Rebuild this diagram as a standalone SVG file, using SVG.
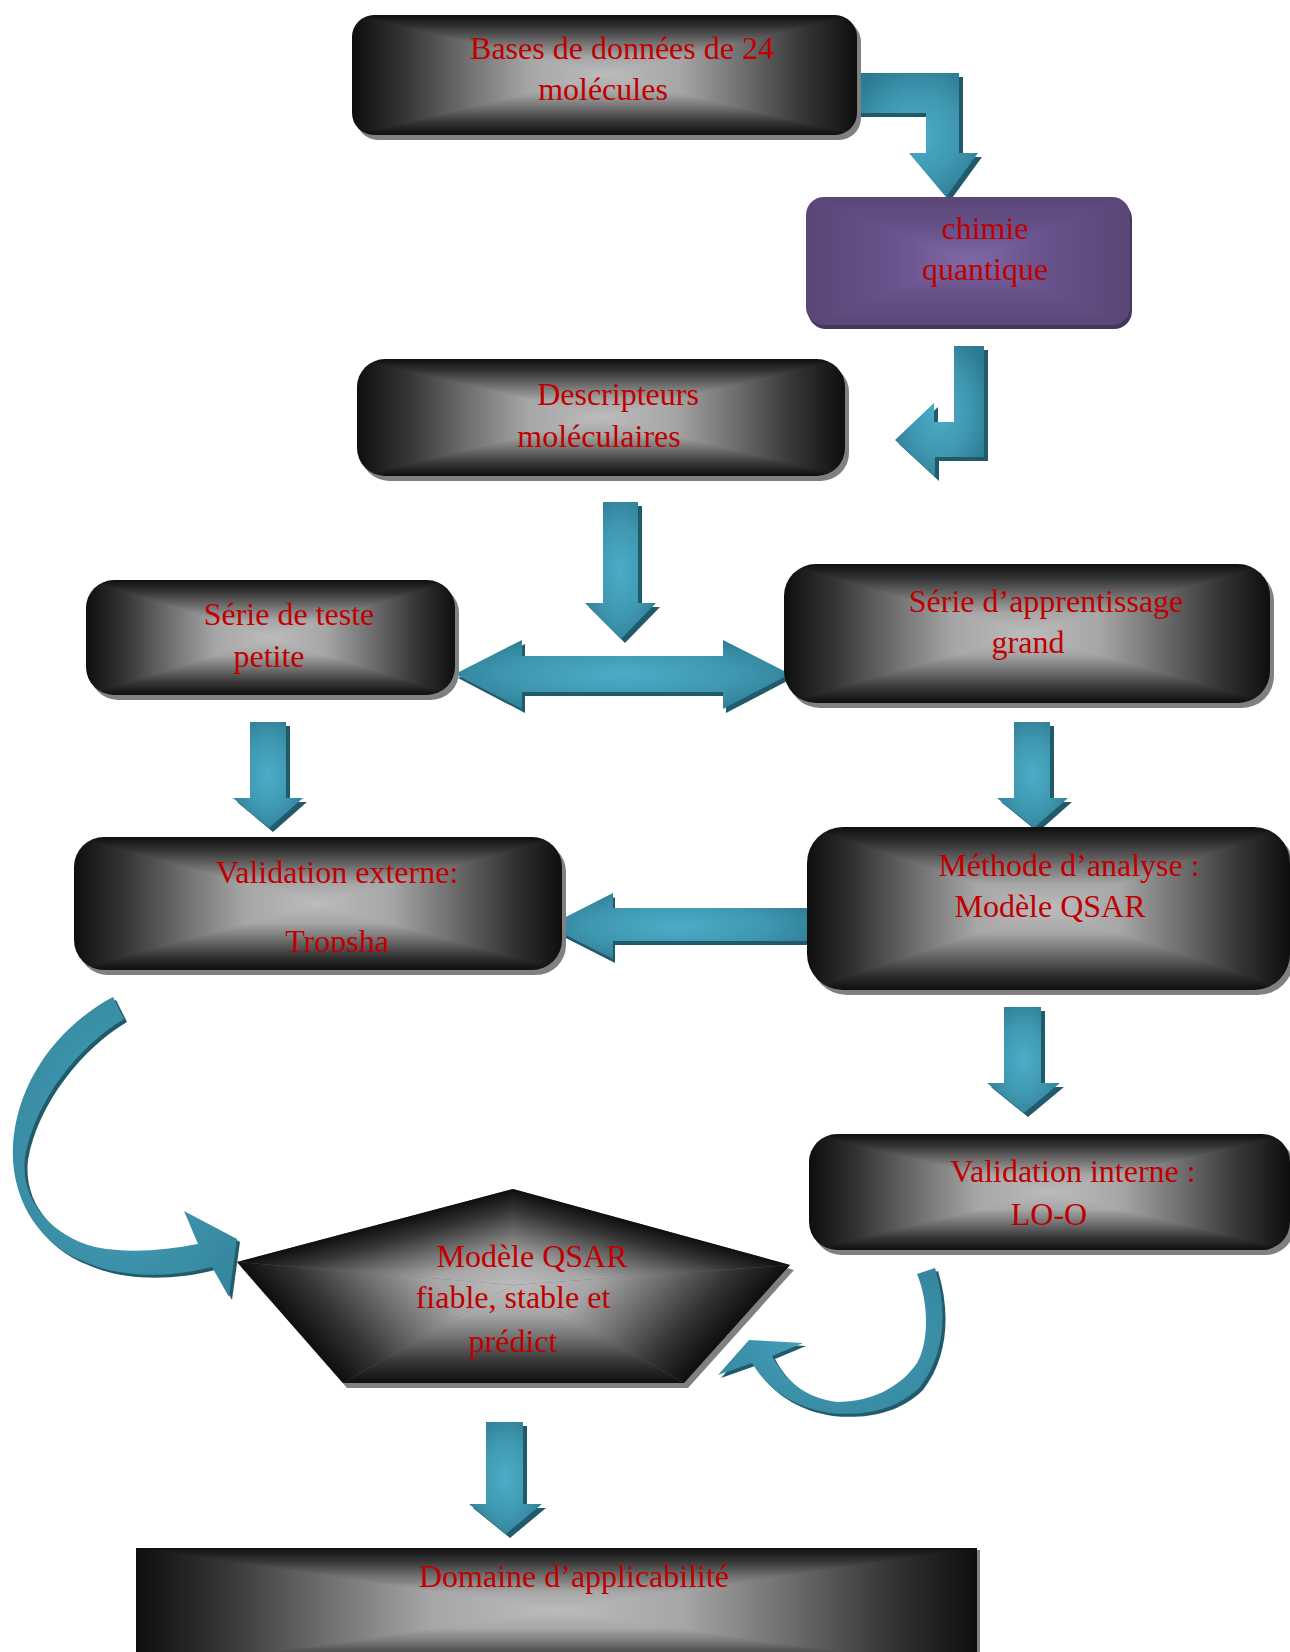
<svg xmlns="http://www.w3.org/2000/svg" xmlns:xlink="http://www.w3.org/1999/xlink" width="1290" height="1652" viewBox="0 0 1290 1652">
<style>
.t{font-family:"Liberation Serif","Times New Roman",serif;font-size:32px;fill:#c00000;text-anchor:middle}
.box{fill:url(#pgGray)}
.pbox{fill:url(#pgPurple)}
.sh{fill:#808080}
.psh{fill:#45375c}
.arr{fill:url(#gArr)}
.carr{fill:url(#gCurve)}
.ash{fill:#215b6b}
</style>
<defs>
<linearGradient id="gT" x1="0" y1="0" x2="0" y2="1"><stop offset="0" stop-color="#0e0e0e"/><stop offset="0.2" stop-color="#333"/><stop offset="0.45" stop-color="#6e6e6e"/><stop offset="0.7" stop-color="#a6a6a6"/><stop offset="1" stop-color="#bcbcbc"/></linearGradient>
<linearGradient id="gB" href="#gT" xlink:href="#gT" x1="0" y1="1" x2="0" y2="0"/>
<linearGradient id="gL" href="#gT" xlink:href="#gT" x1="0" y1="0" x2="1" y2="0"/>
<linearGradient id="gR" href="#gT" xlink:href="#gT" x1="1" y1="0" x2="0" y2="0"/>
<pattern id="pgGray" patternContentUnits="objectBoundingBox" width="1" height="1">
<rect width="1" height="1" fill="#6a6a6a"/>
<polygon points="0,0 0.04,0 0.5,0.46 0.5,0.54 0.04,1 0,1" fill="url(#gL)"/>
<polygon points="1,0 0.96,0 0.5,0.46 0.5,0.54 0.96,1 1,1" fill="url(#gR)"/>
<polygon points="0,0 1,0 0.5,0.5" fill="url(#gT)"/>
<polygon points="0,1 1,1 0.5,0.5" fill="url(#gB)"/>
</pattern>
<linearGradient id="pT" x1="0" y1="0" x2="0" y2="1"><stop offset="0" stop-color="#5a4676"/><stop offset="0.5" stop-color="#66518a"/><stop offset="1" stop-color="#8068a6"/></linearGradient>
<linearGradient id="pB" href="#pT" xlink:href="#pT" x1="0" y1="1" x2="0" y2="0"/>
<linearGradient id="pL" href="#pT" xlink:href="#pT" x1="0" y1="0" x2="1" y2="0"/>
<linearGradient id="pR" href="#pT" xlink:href="#pT" x1="1" y1="0" x2="0" y2="0"/>
<pattern id="pgPurple" patternContentUnits="objectBoundingBox" width="1" height="1">
<rect width="1" height="1" fill="#6a5590"/>
<polygon points="0,0 0.04,0 0.5,0.46 0.5,0.54 0.04,1 0,1" fill="url(#pL)"/>
<polygon points="1,0 0.96,0 0.5,0.46 0.5,0.54 0.96,1 1,1" fill="url(#pR)"/>
<polygon points="0,0 1,0 0.5,0.5" fill="url(#pT)"/>
<polygon points="0,1 1,1 0.5,0.5" fill="url(#pB)"/>
</pattern>
<linearGradient id="q1" href="#gT" xlink:href="#gT" gradientUnits="userSpaceOnUse" x1="489.3" y1="1195.3" x2="513" y2="1285"/>
<linearGradient id="q2" href="#gT" xlink:href="#gT" gradientUnits="userSpaceOnUse" x1="368.2" y1="1411.7" x2="513" y2="1285"/>
<linearGradient id="q3" href="#gT" xlink:href="#gT" gradientUnits="userSpaceOnUse" x1="513" y1="1383" x2="513" y2="1285"/>
<linearGradient id="q4" href="#gT" xlink:href="#gT" gradientUnits="userSpaceOnUse" x1="656.3" y1="1413.8" x2="513" y2="1285"/>
<linearGradient id="q5" href="#gT" xlink:href="#gT" gradientUnits="userSpaceOnUse" x1="537.4" y1="1195.7" x2="513" y2="1285"/>
<radialGradient id="gArr" cx="0.5" cy="0.5" r="0.62"><stop offset="0" stop-color="#4cadc7"/><stop offset="0.55" stop-color="#3f97b0"/><stop offset="1" stop-color="#2c7a90"/></radialGradient>
<radialGradient id="gCurve" cx="0.5" cy="0.5" r="0.7"><stop offset="0" stop-color="#46a3bc"/><stop offset="1" stop-color="#33839a"/></radialGradient>
<clipPath id="clipTropsha"><rect x="74" y="837" width="488" height="116"/></clipPath>
<path id="a1" d="M857,73 L959,73 L959,153 L978,153 L946,197 L909,153 L926,153 L926,113 L857,113 Z"/>
<path id="a2" d="M954,346 L984,346 L984,457 L935,457 L935,477 L895,440 L934,403 L934,422 L954,422 Z"/>
<path id="a3" d="M603,502 L638,502 L638,603 L656,603 L621,639 L585,603 L603,603 Z"/>
<path id="a4" d="M455,674 L522,640 L522,656 L723,656 L723,640 L790,674 L723,709 L723,692 L522,692 L522,709 Z"/>
<path id="a5" d="M250,722 L286,722 L286,798 L303,798 L269,828 L233,798 L250,798 Z"/>
<path id="a6" d="M1014,722 L1050,722 L1050,798 L1068,798 L1034,828 L997,798 L1014,798 Z"/>
<path id="a7" d="M807,908 L613,908 L613,893 L548,926 L613,959 L613,941 L807,941 Z"/>
<path id="a8" d="M1004,1007 L1041,1007 L1041,1083 L1060,1083 L1024,1113 L987,1083 L1004,1083 Z"/>
<path id="a9" d="M113,997 L124,1019 C80,1045 35,1100 25,1157 C20,1200 50,1235 95,1247 C130,1254 165,1250 198,1244 L184,1211 L237,1239 L229,1297 L212,1267 C170,1278 120,1278 85,1262 C40,1245 10,1200 13,1145 C17,1080 60,1025 113,997 Z"/>
<path id="a10" d="M917,1274 L935,1268 C948,1310 945,1355 920,1387 C895,1412 860,1416 830,1413 C795,1408 768,1390 752,1363 L718,1375 L749,1340 L803,1343 L772,1356 C785,1380 805,1398 837,1402 C870,1402 900,1388 917,1363 C930,1340 928,1300 917,1274 Z"/>
<path id="a11" d="M486,1422 L523,1422 L523,1504 L542,1504 L506,1534 L469,1504 L486,1504 Z"/>
</defs>
<rect width="1290" height="1652" fill="#ffffff"/>
<g id="connectors">
<use href="#a1" xlink:href="#a1" class="ash" transform="translate(4,4)"/><use href="#a1" xlink:href="#a1" class="arr"/>
<use href="#a2" xlink:href="#a2" class="ash" transform="translate(4,4)"/><use href="#a2" xlink:href="#a2" class="arr"/>
<use href="#a3" xlink:href="#a3" class="ash" transform="translate(4,4)"/><use href="#a3" xlink:href="#a3" class="arr"/>
<use href="#a4" xlink:href="#a4" class="ash" transform="translate(3,4)"/><use href="#a4" xlink:href="#a4" class="arr"/>
<use href="#a5" xlink:href="#a5" class="ash" transform="translate(4,4)"/><use href="#a5" xlink:href="#a5" class="arr"/>
<use href="#a6" xlink:href="#a6" class="ash" transform="translate(4,4)"/><use href="#a6" xlink:href="#a6" class="arr"/>
<use href="#a7" xlink:href="#a7" class="ash" transform="translate(2,4)"/><use href="#a7" xlink:href="#a7" class="arr"/>
<use href="#a8" xlink:href="#a8" class="ash" transform="translate(4,4)"/><use href="#a8" xlink:href="#a8" class="arr"/>
<use href="#a9" xlink:href="#a9" class="ash" transform="translate(3,3)"/><use href="#a9" xlink:href="#a9" class="carr"/>
<use href="#a10" xlink:href="#a10" class="ash" transform="translate(3,3)"/><use href="#a10" xlink:href="#a10" class="carr"/>
<use href="#a11" xlink:href="#a11" class="ash" transform="translate(4,4)"/><use href="#a11" xlink:href="#a11" class="arr"/>
</g>
<g id="n-bases">
<rect class="sh" x="356" y="20" width="505" height="120" rx="22"/>
<rect class="box" x="352" y="15" width="505" height="120" rx="22"/>
<text class="t" x="622" y="59">Bases de données de 24</text>
<text class="t" x="603" y="100">molécules</text>
</g>
<g id="n-chimie">
<rect class="psh" x="808" y="201" width="324" height="128" rx="18"/>
<rect class="pbox" x="806" y="197" width="324" height="128" rx="18"/>
<text class="t" x="985" y="239">chimie</text>
<text class="t" x="985" y="280">quantique</text>
</g>
<g id="n-desc">
<rect class="sh" x="361" y="364" width="488" height="117" rx="28"/>
<rect class="box" x="357" y="359" width="488" height="117" rx="28"/>
<text class="t" x="618" y="405">Descripteurs</text>
<text class="t" x="599" y="447">moléculaires</text>
</g>
<g id="n-test">
<rect class="sh" x="90" y="585" width="369" height="115" rx="28"/>
<rect class="box" x="86" y="580" width="369" height="115" rx="28"/>
<text class="t" x="289" y="625">Série de teste</text>
<text class="t" x="269" y="667">petite</text>
</g>
<g id="n-appr">
<rect class="sh" x="788" y="569" width="486" height="139" rx="32"/>
<rect class="box" x="784" y="564" width="486" height="139" rx="32"/>
<text class="t" x="1046" y="612">Série d’apprentissage</text>
<text class="t" x="1028" y="653">grand</text>
</g>
<g id="n-ext">
<rect class="sh" x="78" y="842" width="488" height="133" rx="30"/>
<rect class="box" x="74" y="837" width="488" height="133" rx="30"/>
<text class="t" x="337" y="883">Validation externe:</text>
<text class="t" x="337" y="952" clip-path="url(#clipTropsha)">Tropsha</text>
</g>
<g id="n-meth">
<rect class="sh" x="811" y="832" width="483" height="163" rx="36"/>
<rect class="box" x="807" y="827" width="483" height="163" rx="36"/>
<text class="t" x="1069" y="876">Méthode d’analyse :</text>
<text class="t" x="1050" y="917">Modèle QSAR</text>
</g>
<g id="n-int">
<rect class="sh" x="813" y="1139" width="481" height="116" rx="28"/>
<rect class="box" x="809" y="1134" width="481" height="116" rx="28"/>
<text class="t" x="1073" y="1182">Validation interne :</text>
<text class="t" x="1049" y="1225">LO-O</text>
</g>
<g id="n-penta">
<polygon class="sh" points="517,1194 241,1267 347,1388 688,1388 794,1270"/>
<polygon points="513,1189 237,1262 343,1383 684,1383 790,1265" fill="#6a6a6a"/>
<polygon points="513,1285 513,1189 237,1262" fill="url(#q1)"/>
<polygon points="513,1285 237,1262 343,1383" fill="url(#q2)"/>
<polygon points="513,1285 343,1383 684,1383" fill="url(#q3)"/>
<polygon points="513,1285 684,1383 790,1265" fill="url(#q4)"/>
<polygon points="513,1285 790,1265 513,1189" fill="url(#q5)"/>
<text class="t" x="532" y="1267">Modèle QSAR</text>
<text class="t" x="513" y="1308">fiable, stable et</text>
<text class="t" x="513" y="1352">prédict</text>
</g>
<g id="n-dom">
<rect class="sh" x="139" y="1550" width="841" height="124"/>
<rect class="box" x="136" y="1548" width="841" height="124"/>
<text class="t" x="574" y="1587">Domaine d’applicabilité</text>
</g>
</svg>
